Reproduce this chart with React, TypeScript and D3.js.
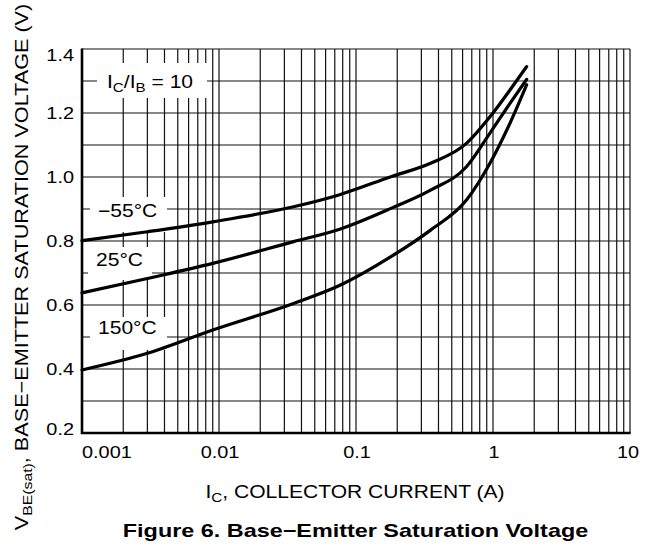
import React from "react";
import * as d3 from "d3";

const currents = [0.001, 0.003, 0.009, 0.035, 0.075, 0.18, 0.35, 0.64, 0.95, 1.33, 1.76];
const vMinus55 = [0.801, 0.829, 0.86, 0.907, 0.944, 1.001, 1.043, 1.105, 1.188, 1.272, 1.345];
const v25 = [0.638, 0.683, 0.73, 0.798, 0.836, 0.902, 0.959, 1.032, 1.137, 1.23, 1.305];
const v150 = [0.397, 0.449, 0.522, 0.605, 0.66, 0.751, 0.834, 0.928, 1.043, 1.168, 1.288];
const seriesNames = ["−55°C", "25°C", "150°C"];
const xTickValues = [0.001, 0.01, 0.1, 1, 10];
const xTickLabels = ["0.001", "0.01", "0.1", "1", "10"];
const yTickValues = [0.2, 0.4, 0.6, 0.8, 1.0, 1.2, 1.4];
const yTickLabels = ["0.2", "0.4", "0.6", "0.8", "1.0", "1.2", "1.4"];

const FONT = "Liberation Sans, Arial, Helvetica, sans-serif";
const L = 82, R = 630, T = 49, B = 433;
const SX = 1.17;

function Txt(props: {
  x: number;
  y: number;
  anchor?: string;
  size?: number;
  sx?: number;
  weight?: string;
  rotate?: number;
  children: React.ReactNode;
}) {
  const { x, y, anchor = "start", size = 18, sx = SX, weight = "normal", rotate, children } = props;
  const tr = `translate(${x},${y})${rotate ? ` rotate(${rotate})` : ""} scale(${sx},1)`;
  return (
    <text transform={tr} textAnchor={anchor} fontFamily={FONT} fontSize={size} fontWeight={weight} fill="#000">
      {children}
    </text>
  );
}

export default function App() {
  const x = d3.scaleLog().domain([0.001, 10]).range([L, R]);
  const y = d3.scaleLinear().domain([0.2, 1.4]).range([B, T]);

  const vGrid: number[] = [];
  [0.001, 0.01, 0.1, 1].forEach((d) => {
    for (let k = 1; k <= 9; k++) vGrid.push(k * d);
  });
  vGrid.push(10);
  const hGrid = d3.range(2, 15).map((v) => v / 10);

  const line = d3
    .line<[number, number]>()
    .x((d) => x(d[0]))
    .y((d) => y(d[1]))
    .curve(d3.curveMonotoneX);

  const series = [vMinus55, v25, v150].map((vals) =>
    currents.map((c, i) => [c, vals[i]] as [number, number])
  );

  const labels = [
    { text: seriesNames[0], v: 0.895, box: [90, 197, 77, 35] },
    { text: seriesNames[1], v: 0.742, box: [88, 247, 64, 33] },
    { text: seriesNames[2], v: 0.527, box: [90, 317, 77, 33] },
  ];

  return (
    <svg width={654} height={548} style={{ display: "block", position: "absolute", left: 0, top: 0 }}>
      <rect x={0} y={0} width={654} height={548} fill="#fff" />
      {vGrid.map((v, i) => (
        <line key={"v" + i} x1={x(v)} x2={x(v)} y1={T} y2={B} stroke="#111" strokeWidth={1.2} />
      ))}
      {hGrid.map((v, i) => (
        <line key={"h" + i} x1={L} x2={R} y1={y(v)} y2={y(v)} stroke="#111" strokeWidth={1.2} />
      ))}
      <rect x={97} y={63} width={110} height={35} fill="#fff" />
      {labels.map((l, i) => (
        <rect key={"b" + i} x={l.box[0]} y={l.box[1]} width={l.box[2]} height={l.box[3]} fill="#fff" />
      ))}
      <line x1={L} x2={L} y1={T - 0.5} y2={B + 1} stroke="#000" strokeWidth={2.6} />
      <line x1={L - 1} x2={R + 0.6} y1={B} y2={B} stroke="#000" strokeWidth={2.6} />
      {series.map((s, i) => (
        <path key={"c" + i} d={line(s) || ""} fill="none" stroke="#000" strokeWidth={3.2} strokeLinejoin="round" strokeLinecap="round" />
      ))}
      <Txt x={107} y={y(1.3) + 7}>
        I<tspan fontSize={13} dy={4}>C</tspan>
        <tspan dy={-4}>/I</tspan>
        <tspan fontSize={13} dy={4}>B</tspan>
        <tspan dy={-4}> = 10</tspan>
      </Txt>
      {labels.map((l, i) => (
        <Txt key={"t" + i} x={l.box[0] + 8} y={y(l.v) + 6}>
          {l.text}
        </Txt>
      ))}
      {yTickValues.map((v, i) => (
        <Txt
          key={"yt" + i}
          x={74}
          y={y(v) + 6 + (i === yTickValues.length - 1 ? 6 : 0) + (i === 0 ? -4 : 0)}
          anchor="end"
          size={17}
        >
          {yTickLabels[i]}
        </Txt>
      ))}
      {xTickValues.map((v, i) => (
        <Txt
          key={"xt" + i}
          x={i === 0 ? x(v) : i === xTickValues.length - 1 ? x(v) + 9 : x(v) + 1}
          y={458}
          anchor={i === 0 ? "start" : i === xTickValues.length - 1 ? "end" : "middle"}
          size={17}
        >
          {xTickLabels[i]}
        </Txt>
      ))}
      <Txt x={355} y={498} anchor="middle">
        I<tspan fontSize={13} dy={4}>C</tspan>
        <tspan dy={-4}>, COLLECTOR CURRENT (A)</tspan>
      </Txt>
      <Txt x={28} y={267} anchor="middle" rotate={-90} size={18.5}>
        V<tspan fontSize={13.5} dy={4}>BE(sat)</tspan>
        <tspan dy={-4}>, BASE−EMITTER SATURATION VOLTAGE (V)</tspan>
      </Txt>
      <Txt x={355.5} y={537} anchor="middle" size={18} sx={1.3} weight="bold">
        Figure 6. Base−Emitter Saturation Voltage
      </Txt>
    </svg>
  );
}
